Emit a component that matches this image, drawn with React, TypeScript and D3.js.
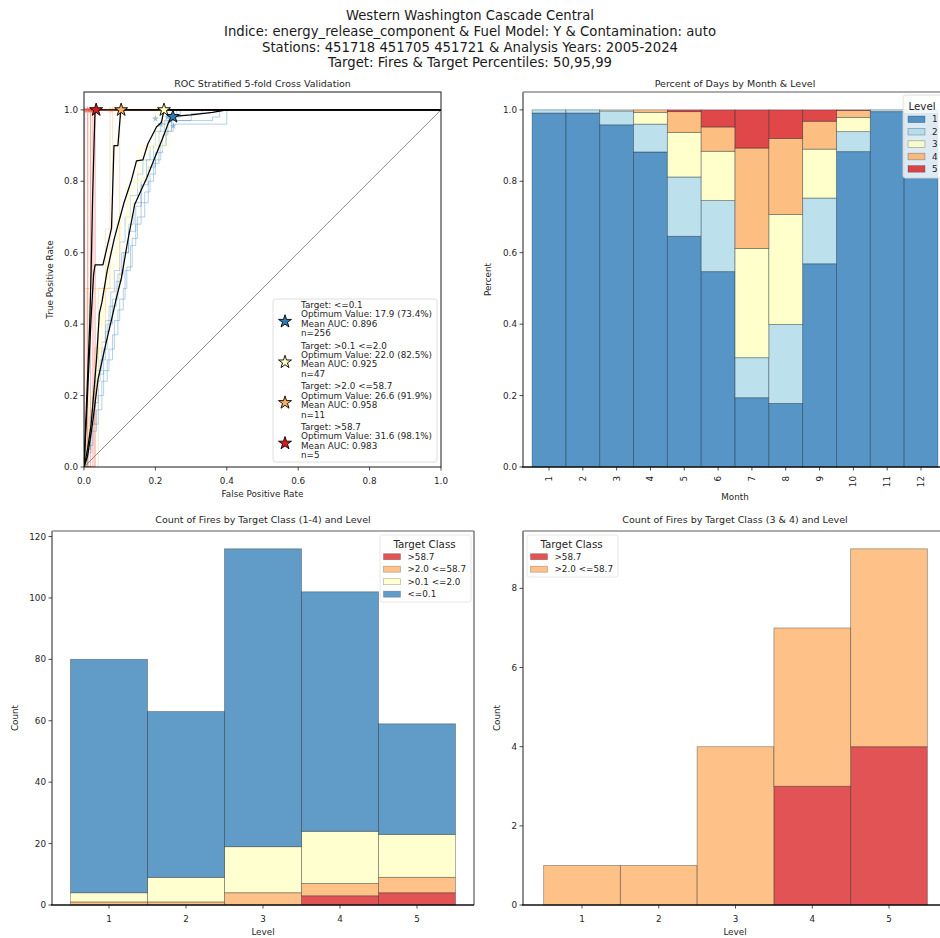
import React from 'react';
import * as d3 from 'd3';

const W = 940;
const H = 938;
const FONT = "'DejaVu Sans', 'Noto Sans', sans-serif";
const TEXT = '#262626';

// ---------- figure title ----------
const titleLines = [
  'Western Washington Cascade Central',
  'Indice: energy_release_component & Fuel Model: Y & Contamination: auto',
  'Stations: 451718 451705 451721 & Analysis Years: 2005-2024',
  'Target: Fires & Target Percentiles: 50,95,99',
];

// ---------- ROC panel data ----------
const rocClasses = ['<=0.1', '>0.1 <=2.0', '>2.0 <=58.7', '>58.7'];
const rocOptimum = ['17.9 (73.4%)', '22.0 (82.5%)', '26.6 (91.9%)', '31.6 (98.1%)'];
const rocMeanAuc = ['0.896', '0.925', '0.958', '0.983'];
const rocCounts = [256, 47, 11, 5];
const rocOptimumPoints: [number, number][] = [
  [0.249, 0.981],
  [0.224, 1.0],
  [0.104, 1.0],
  [0.034, 1.0],
];

// mean ROC curves (fpr, tpr)
const meanLow: [number, number][] = [
  [0, 0], [0.01, 0.03], [0.025, 0.13], [0.039, 0.244], [0.06, 0.34], [0.077, 0.412],
  [0.09, 0.47], [0.105, 0.53], [0.122, 0.63], [0.142, 0.735], [0.16, 0.775],
  [0.176, 0.81], [0.198, 0.865], [0.22, 0.92], [0.237, 0.965], [0.249, 0.982],
  [0.3, 0.986], [0.36, 0.993], [0.4, 1.0], [1, 1],
];
const meanMid: [number, number][] = [
  [0, 0], [0.01, 0.05], [0.02, 0.12], [0.035, 0.3], [0.043, 0.43], [0.05, 0.46],
  [0.065, 0.55], [0.085, 0.64], [0.112, 0.74], [0.132, 0.8], [0.147, 0.857],
  [0.165, 0.86], [0.179, 0.905], [0.203, 0.952], [0.217, 0.965], [0.224, 1.0], [1, 1],
];
const meanHigh: [number, number][] = [
  [0, 0], [0.005, 0.1], [0.012, 0.25], [0.02, 0.42], [0.027, 0.54], [0.031, 0.566],
  [0.053, 0.566], [0.077, 0.668], [0.084, 0.9], [0.095, 0.9], [0.103, 1.0], [1, 1],
];
const meanExtreme: [number, number][] = [
  [0, 0], [0.004, 0.1], [0.01, 0.25], [0.016, 0.4], [0.02, 0.55], [0.024, 0.75],
  [0.028, 0.9], [0.031, 1.0], [1, 1],
];

// per-fold ROC curves (step points, fpr, tpr)
const foldsLow: [number, number][][] = [
  [[0, 0], [0.005, 0.06], [0.015, 0.14], [0.025, 0.2], [0.035, 0.27], [0.05, 0.35], [0.06, 0.41], [0.075, 0.49], [0.085, 0.55], [0.1, 0.63], [0.115, 0.7], [0.13, 0.76], [0.15, 0.82], [0.165, 0.86], [0.185, 0.9], [0.2, 0.94], [0.215, 0.96], [0.23, 0.98], [0.26, 1], [1, 1]],
  [[0, 0], [0.01, 0.04], [0.02, 0.1], [0.035, 0.16], [0.05, 0.24], [0.065, 0.3], [0.08, 0.37], [0.095, 0.44], [0.11, 0.5], [0.12, 0.56], [0.135, 0.64], [0.15, 0.7], [0.17, 0.77], [0.185, 0.82], [0.2, 0.86], [0.215, 0.9], [0.23, 0.94], [0.25, 0.96], [0.4, 1], [1, 1]],
  [[0, 0], [0.008, 0.08], [0.02, 0.16], [0.03, 0.24], [0.045, 0.3], [0.06, 0.38], [0.07, 0.45], [0.09, 0.52], [0.105, 0.6], [0.125, 0.68], [0.14, 0.74], [0.16, 0.8], [0.175, 0.86], [0.195, 0.9], [0.21, 0.94], [0.225, 0.97], [0.36, 0.98], [0.38, 1], [1, 1]],
  [[0, 0], [0.012, 0.06], [0.025, 0.12], [0.04, 0.2], [0.055, 0.27], [0.07, 0.33], [0.085, 0.41], [0.1, 0.47], [0.115, 0.55], [0.13, 0.62], [0.145, 0.68], [0.16, 0.74], [0.18, 0.8], [0.195, 0.85], [0.21, 0.9], [0.23, 0.94], [0.245, 0.98], [0.27, 1], [1, 1]],
  [[0, 0], [0.006, 0.05], [0.018, 0.12], [0.03, 0.18], [0.04, 0.26], [0.055, 0.33], [0.065, 0.4], [0.08, 0.47], [0.095, 0.54], [0.11, 0.6], [0.125, 0.66], [0.145, 0.73], [0.16, 0.79], [0.18, 0.84], [0.2, 0.88], [0.22, 0.93], [0.235, 0.97], [0.3, 0.99], [0.33, 1], [1, 1]],
];
const foldsMid: [number, number][][] = [
  [[0, 0], [0, 0.1], [0.02, 0.2], [0.03, 0.3], [0.04, 0.4], [0.045, 0.5], [0.07, 0.6], [0.1, 0.7], [0.13, 0.8], [0.16, 0.9], [0.2, 1], [1, 1]],
  [[0, 0], [0.01, 0.11], [0.025, 0.22], [0.035, 0.33], [0.05, 0.44], [0.06, 0.56], [0.09, 0.67], [0.12, 0.78], [0.15, 0.89], [0.22, 1], [1, 1]],
  [[0, 0], [0.005, 0.1], [0.015, 0.2], [0.03, 0.3], [0.04, 0.4], [0.06, 0.5], [0.08, 0.6], [0.105, 0.7], [0.14, 0.8], [0.18, 0.9], [0.21, 1], [1, 1]],
  [[0, 0], [0.012, 0.1], [0.02, 0.2], [0.035, 0.3], [0.045, 0.4], [0.055, 0.5], [0.065, 0.6], [0.09, 0.7], [0.12, 0.8], [0.17, 0.9], [0.23, 1], [1, 1]],
  [[0, 0], [0.008, 0.11], [0.02, 0.22], [0.04, 0.33], [0.05, 0.44], [0.07, 0.56], [0.1, 0.67], [0.125, 0.78], [0.155, 0.89], [0.24, 1], [1, 1]],
];
const foldsHigh: [number, number][][] = [
  [[0, 0], [0, 0.5], [0.073, 1], [1, 1]],
  [[0, 0], [0.008, 0.5], [0.02, 1], [1, 1]],
  [[0, 0], [0.03, 0.333], [0.06, 0.667], [0.08, 1], [1, 1]],
  [[0, 0], [0.012, 1], [1, 1]],
  [[0, 0], [0.04, 0.5], [0.1, 1], [1, 1]],
];
const foldsExtreme: [number, number][][] = [
  [[0, 0], [0.002, 1], [1, 1]],
  [[0, 0], [0.01, 1], [1, 1]],
  [[0, 0], [0.018, 1], [1, 1]],
  [[0, 0], [0.025, 1], [1, 1]],
  [[0, 0], [0.031, 1], [1, 1]],
];
// optimum point of each fold
const foldStarsLow: [number, number][] = [[0.2, 0.975], [0.25, 0.955], [0.235, 0.98], [0.243, 0.97], [0.215, 0.96]];
const foldStarsMid: [number, number][] = [[0.2, 1], [0.22, 1], [0.21, 1], [0.23, 1], [0.24, 1]];
const foldStarsHigh: [number, number][] = [[0.073, 1], [0.02, 1], [0.08, 1], [0.012, 1], [0.1, 1]];
const foldStarsExtreme: [number, number][] = [[0.002, 1], [0.01, 1], [0.018, 1], [0.025, 1], [0.031, 1]];

const rocMeans = [meanLow, meanMid, meanHigh, meanExtreme];
const rocFolds = [foldsLow, foldsMid, foldsHigh, foldsExtreme];
const rocFoldStars = [foldStarsLow, foldStarsMid, foldStarsHigh, foldStarsExtreme];
const rocColors = ['#2c7bb6', '#ffffbf', '#fdae61', '#d7191c'];

// ---------- percent of days by month ----------
const months = [1, 2, 3, 4, 5, 6, 7, 8, 9, 10, 11, 12];
const levelKeys = ['1', '2', '3', '4', '5'];
const levelColors = ['#2c7bb6', '#abd9e9', '#ffffbf', '#fdae61', '#d7191c'];
const shareLevel1 = [0.991, 0.991, 0.958, 0.882, 0.646, 0.547, 0.194, 0.178, 0.569, 0.883, 0.995, 0.99];
const shareLevel2 = [0.009, 0.009, 0.039, 0.078, 0.166, 0.199, 0.112, 0.221, 0.184, 0.056, 0.005, 0.01];
const shareLevel3 = [0, 0, 0.003, 0.033, 0.125, 0.138, 0.306, 0.308, 0.137, 0.04, 0, 0];
const shareLevel4 = [0, 0, 0, 0.007, 0.058, 0.068, 0.281, 0.213, 0.078, 0.019, 0, 0];
const shareLevel5 = [0, 0, 0, 0, 0.005, 0.048, 0.107, 0.08, 0.032, 0.002, 0, 0];
const monthTicks = [0, 0.2, 0.4, 0.6, 0.8, 1.0];

// ---------- fire counts by level ----------
const fireLevels = [1, 2, 3, 4, 5];
const classKeys = ['>58.7', '>2.0 <=58.7', '>0.1 <=2.0', '<=0.1'];
const classColors = ['#d7191c', '#fdae61', '#ffffbf', '#2c7bb6'];
const firesExtreme = [0, 0, 0, 3, 4];
const firesHigh = [1, 1, 4, 4, 5];
const firesMid = [3, 8, 15, 17, 14];
const firesLow = [76, 54, 97, 78, 36];
const countTicksAll = [0, 20, 40, 60, 80, 100, 120];
const countTicksHigh = [0, 2, 4, 6, 8];

const starPath = (size: number) => d3.symbol().type(d3.symbolStar).size(size)() as string;
const fmt1 = d3.format('.1f');

type Scale = d3.ScaleLinear<number, number>;

function Frame({ x0, x1, y0, y1, style }: { x0: number; x1: number; y0: number; y1: number; style: 'box' | 'soft' }) {
  if (style === 'box') {
    return <rect x={x0} y={y0} width={x1 - x0} height={y1 - y0} fill="none" stroke="#1a1a1a" strokeWidth={1} />;
  }
  return (
    <g>
      <line x1={x0} x2={x1} y1={y0} y2={y0} stroke="#5a5a5a" strokeWidth={1.2} />
      <line x1={x1} x2={x1} y1={y0} y2={y1} stroke="#5a5a5a" strokeWidth={1.2} />
      <line x1={x0} x2={x0} y1={y0} y2={y1} stroke="#8f8f8f" strokeWidth={2} />
      <line x1={x0 - 1} x2={x1} y1={y1} y2={y1} stroke="#111" strokeWidth={1.3} />
    </g>
  );
}

function YTicks({ scale, ticks, x, format }: { scale: Scale; ticks: number[]; x: number; format: (v: number) => string }) {
  return (
    <g>
      {ticks.map((t) => (
        <g key={t}>
          <line x1={x - 3.5} x2={x} y1={scale(t)} y2={scale(t)} stroke="#222" strokeWidth={0.8} />
          <text x={x - 6} y={scale(t)} textAnchor="end" dominantBaseline="central" fontSize={8.8} fill={TEXT}>
            {format(t)}
          </text>
        </g>
      ))}
    </g>
  );
}

function XTicks({ scale, ticks, y, format }: { scale: Scale; ticks: number[]; y: number; format: (v: number) => string }) {
  return (
    <g>
      {ticks.map((t) => (
        <g key={t}>
          <line x1={scale(t)} x2={scale(t)} y1={y} y2={y + 3.5} stroke="#222" strokeWidth={0.8} />
          <text x={scale(t)} y={y + 14} textAnchor="middle" dominantBaseline="central" fontSize={8.8} fill={TEXT}>
            {format(t)}
          </text>
        </g>
      ))}
    </g>
  );
}

function RocPanel() {
  const x = d3.scaleLinear().domain([0, 1]).range([84, 441]);
  const y = d3.scaleLinear().domain([0, 1.05]).range([467, 92]);
  const stepLine = d3.line<[number, number]>().x((d) => x(d[0])).y((d) => y(d[1])).curve(d3.curveStepAfter);
  const line = d3.line<[number, number]>().x((d) => x(d[0])).y((d) => y(d[1]));
  const ticks = [0, 0.2, 0.4, 0.6, 0.8, 1.0];
  const bigStar = starPath(52);
  const smallStar = starPath(16);
  const legendX = 273;
  const legendY = 299;
  const groupStep = 40.6;
  const lineStep = 9.44;
  return (
    <g>
      <text x={262.5} y={83} textAnchor="middle" dominantBaseline="central" fontSize={9.5} fill={TEXT}>
        ROC Stratified 5-fold Cross Validation
      </text>
      <defs>
        <clipPath id="roc-clip">
          <rect x={84} y={92} width={357} height={375} />
        </clipPath>
      </defs>
      <g clipPath="url(#roc-clip)">
        {rocFolds.map((folds, ci) =>
          folds.map((f, fi) => (
            <path key={`f${ci}-${fi}`} d={stepLine(f) as string} fill="none" stroke={rocColors[ci]} strokeOpacity={ci === 1 ? 0.55 : 0.35} strokeWidth={1} />
          ))
        )}
        {rocFoldStars.map((pts, ci) =>
          pts.map((p, pi) => (
            <path key={`s${ci}-${pi}`} d={smallStar} transform={`translate(${x(p[0])},${y(p[1])})`} fill={rocColors[ci]} fillOpacity={0.45} />
          ))
        )}
        <line x1={x(0)} y1={y(0)} x2={x(1)} y2={y(1)} stroke="#808080" strokeWidth={0.9} />
        {rocMeans.map((m, ci) => (
          <path key={`m${ci}`} d={line(m) as string} fill="none" stroke="#000" strokeWidth={1.25} strokeLinejoin="round" />
        ))}
        {rocOptimumPoints.map((p, ci) => (
          <path key={`o${ci}`} d={bigStar} transform={`translate(${x(p[0])},${y(p[1])})`} fill={rocColors[ci]} stroke="#000" strokeWidth={0.9} />
        ))}
      </g>
      <Frame x0={84} x1={441} y0={92} y1={467} style="box" />
      <XTicks scale={x} ticks={ticks} y={467} format={fmt1} />
      <YTicks scale={y} ticks={ticks} x={84} format={fmt1} />
      <text x={262.5} y={494} textAnchor="middle" dominantBaseline="central" fontSize={8.8} fill={TEXT}>
        False Positive Rate
      </text>
      <text transform={`translate(50,279.5) rotate(-90)`} textAnchor="middle" dominantBaseline="central" fontSize={8.8} fill={TEXT}>
        True Positive Rate
      </text>
      {/* legend */}
      <rect x={legendX} y={legendY} width={164} height={163} rx={2.5} fill="#fff" fillOpacity={0.8} stroke="#d6d6d6" strokeWidth={0.8} />
      {rocClasses.map((c, ci) => {
        const gy = 305 + ci * groupStep;
        const lines = [
          `Target: ${c}`,
          `Optimum Value: ${rocOptimum[ci]}`,
          `Mean AUC: ${rocMeanAuc[ci]}`,
          `n=${rocCounts[ci]}`,
        ];
        return (
          <g key={c}>
            <path d={bigStar} transform={`translate(285,${gy + 16.5})`} fill={rocColors[ci]} stroke="#000" strokeWidth={0.9} />
            {lines.map((t, li) => (
              <text key={li} x={301} y={gy + li * lineStep} dominantBaseline="central" fontSize={8.8} fill={TEXT}>
                {t}
              </text>
            ))}
          </g>
        );
      })}
    </g>
  );
}

function MonthPanel() {
  const x = d3.scaleLinear().domain([1, 12]).range([549, 921]);
  const y = d3.scaleLinear().domain([0, 1.05]).range([467, 92]);
  const rows = months.map((m, i) => ({
    month: m,
    '1': shareLevel1[i],
    '2': shareLevel2[i],
    '3': shareLevel3[i],
    '4': shareLevel4[i],
    '5': shareLevel5[i],
  }));
  const series = d3.stack<any>().keys(levelKeys)(rows);
  const x0 = 523;
  const x1 = 947;
  return (
    <g>
      <text x={735} y={83} textAnchor="middle" dominantBaseline="central" fontSize={9.5} fill={TEXT}>
        Percent of Days by Month &amp; Level
      </text>
      {series.map((s, si) => (
        <g key={s.key}>
          {s.map((d, di) =>
            d[1] - d[0] > 0 ? (
              <rect
                key={di}
                x={x(months[di] - 0.5)}
                width={x(months[di] + 0.5) - x(months[di] - 0.5)}
                y={y(d[1])}
                height={y(d[0]) - y(d[1])}
                fill={levelColors[si]}
                fillOpacity={0.8}
                stroke="#1f2f3f"
                strokeOpacity={0.45}
                strokeWidth={0.8}
              />
            ) : null
          )}
        </g>
      ))}
      <Frame x0={x0} x1={x1} y0={92} y1={467} style="soft" />
      <YTicks scale={y} ticks={monthTicks} x={x0} format={fmt1} />
      {months.map((m) => (
        <g key={m}>
          <line x1={x(m)} x2={x(m)} y1={467} y2={470.5} stroke="#222" strokeWidth={0.8} />
          <text transform={`translate(${x(m)},476) rotate(-90)`} textAnchor="end" dominantBaseline="central" fontSize={8.8} fill={TEXT}>
            {m}
          </text>
        </g>
      ))}
      <text x={735} y={497} textAnchor="middle" dominantBaseline="central" fontSize={8.8} fill={TEXT}>
        Month
      </text>
      <text transform={`translate(488,279.5) rotate(-90)`} textAnchor="middle" dominantBaseline="central" fontSize={8.8} fill={TEXT}>
        Percent
      </text>
      {/* legend */}
      <rect x={903} y={95} width={60} height={83} rx={2.5} fill="#fff" fillOpacity={0.8} stroke="#d6d6d6" strokeWidth={0.8} />
      <text x={922} y={105.5} textAnchor="middle" dominantBaseline="central" fontSize={10.3} fill={TEXT}>
        Level
      </text>
      {levelKeys.map((k, i) => {
        const ly = 119.3 + i * 12.4;
        return (
          <g key={k}>
            <rect x={908} y={ly - 3.3} width={17} height={6.6} fill={levelColors[i]} fillOpacity={0.8} stroke="#1f2f3f" strokeOpacity={0.4} strokeWidth={0.7} />
            <text x={932} y={ly} dominantBaseline="central" fontSize={8.8} fill={TEXT}>
              {k}
            </text>
          </g>
        );
      })}
    </g>
  );
}

function CountPanel({
  title,
  x0,
  x1,
  level1X,
  level5X,
  yMax,
  ticks,
  keys,
  colors,
  columns,
  ylabelX,
  legend,
}: {
  title: string;
  x0: number;
  x1: number;
  level1X: number;
  level5X: number;
  yMax: number;
  ticks: number[];
  keys: string[];
  colors: string[];
  columns: number[][];
  ylabelX: number;
  legend: { x: number; y: number; w: number; h: number; order: number[] };
}) {
  const x = d3.scaleLinear().domain([1, 5]).range([level1X, level5X]);
  const y = d3.scaleLinear().domain([0, yMax]).range([905, 531]);
  const rows = fireLevels.map((lv, i) => {
    const r: any = { level: lv };
    keys.forEach((k, ki) => (r[k] = columns[ki][i]));
    return r;
  });
  const series = d3.stack<any>().keys(keys)(rows);
  const cx = (x0 + x1) / 2;
  return (
    <g>
      <text x={cx} y={519} textAnchor="middle" dominantBaseline="central" fontSize={9.5} fill={TEXT}>
        {title}
      </text>
      {series.map((s, si) => (
        <g key={s.key}>
          {s.map((d, di) =>
            d[1] - d[0] > 0 ? (
              <rect
                key={di}
                x={x(fireLevels[di] - 0.5)}
                width={x(fireLevels[di] + 0.5) - x(fireLevels[di] - 0.5)}
                y={y(d[1])}
                height={y(d[0]) - y(d[1])}
                fill={colors[si]}
                fillOpacity={0.75}
                stroke="#2a2a2a"
                strokeOpacity={0.4}
                strokeWidth={0.9}
              />
            ) : null
          )}
        </g>
      ))}
      <Frame x0={x0} x1={x1} y0={531} y1={905} style="soft" />
      <YTicks scale={y} ticks={ticks} x={x0} format={(v) => String(v)} />
      <XTicks scale={x} ticks={fireLevels} y={905} format={(v) => String(v)} />
      <text x={cx} y={932} textAnchor="middle" dominantBaseline="central" fontSize={8.8} fill={TEXT}>
        Level
      </text>
      <text transform={`translate(${ylabelX},718) rotate(-90)`} textAnchor="middle" dominantBaseline="central" fontSize={8.8} fill={TEXT}>
        Count
      </text>
      <rect x={legend.x} y={legend.y} width={legend.w} height={legend.h} rx={2.5} fill="#fff" fillOpacity={0.8} stroke="#e0e0e0" strokeWidth={0.8} />
      <text x={legend.x + legend.w / 2 - 1} y={legend.y + 8.5} textAnchor="middle" dominantBaseline="central" fontSize={10.3} fill={TEXT}>
        Target Class
      </text>
      {legend.order.map((ki, i) => {
        const ly = legend.y + 21.7 + i * 12.5;
        return (
          <g key={keys[ki]}>
            <rect x={legend.x + 3.5} y={ly - 3} width={17} height={6} fill={colors[ki]} fillOpacity={0.75} stroke="#2a2a2a" strokeOpacity={0.35} strokeWidth={0.7} />
            <text x={legend.x + 27.5} y={ly} dominantBaseline="central" fontSize={8.8} fill={TEXT}>
              {keys[ki]}
            </text>
          </g>
        );
      })}
    </g>
  );
}

export default function App() {
  const titleWidths = [248, 492, 416, 284];
  return (
    <svg
      width={W}
      height={H}
      viewBox={`0 0 ${W} ${H}`}
      style={{ position: 'absolute', left: 0, top: 0, background: '#fff', fontFamily: FONT }}
    >
      <rect x={0} y={0} width={W} height={H} fill="#fff" />
      {titleLines.map((t, i) => (
        <text
          key={i}
          x={470}
          y={15 + i * 15.8}
          textAnchor="middle"
          dominantBaseline="central"
          fontSize={14.5}
          fill="#1a1a1a"
          textLength={titleWidths[i]}
          lengthAdjust="spacingAndGlyphs"
        >
          {t}
        </text>
      ))}
      <RocPanel />
      <MonthPanel />
      <CountPanel
        title="Count of Fires by Target Class (1-4) and Level"
        x0={52}
        x1={474}
        level1X={109}
        level5X={417}
        yMax={121.8}
        ticks={countTicksAll}
        keys={classKeys}
        colors={classColors}
        columns={[firesExtreme, firesHigh, firesMid, firesLow]}
        ylabelX={15}
        legend={{ x: 380, y: 535, w: 91, h: 67, order: [0, 1, 2, 3] }}
      />
      <CountPanel
        title="Count of Fires by Target Class (3 & 4) and Level"
        x0={523}
        x1={947}
        level1X={582}
        level5X={889}
        yMax={9.45}
        ticks={countTicksHigh}
        keys={classKeys.slice(0, 2)}
        colors={classColors.slice(0, 2)}
        columns={[firesExtreme, firesHigh]}
        ylabelX={497}
        legend={{ x: 527, y: 535, w: 91, h: 42, order: [0, 1] }}
      />
    </svg>
  );
}
